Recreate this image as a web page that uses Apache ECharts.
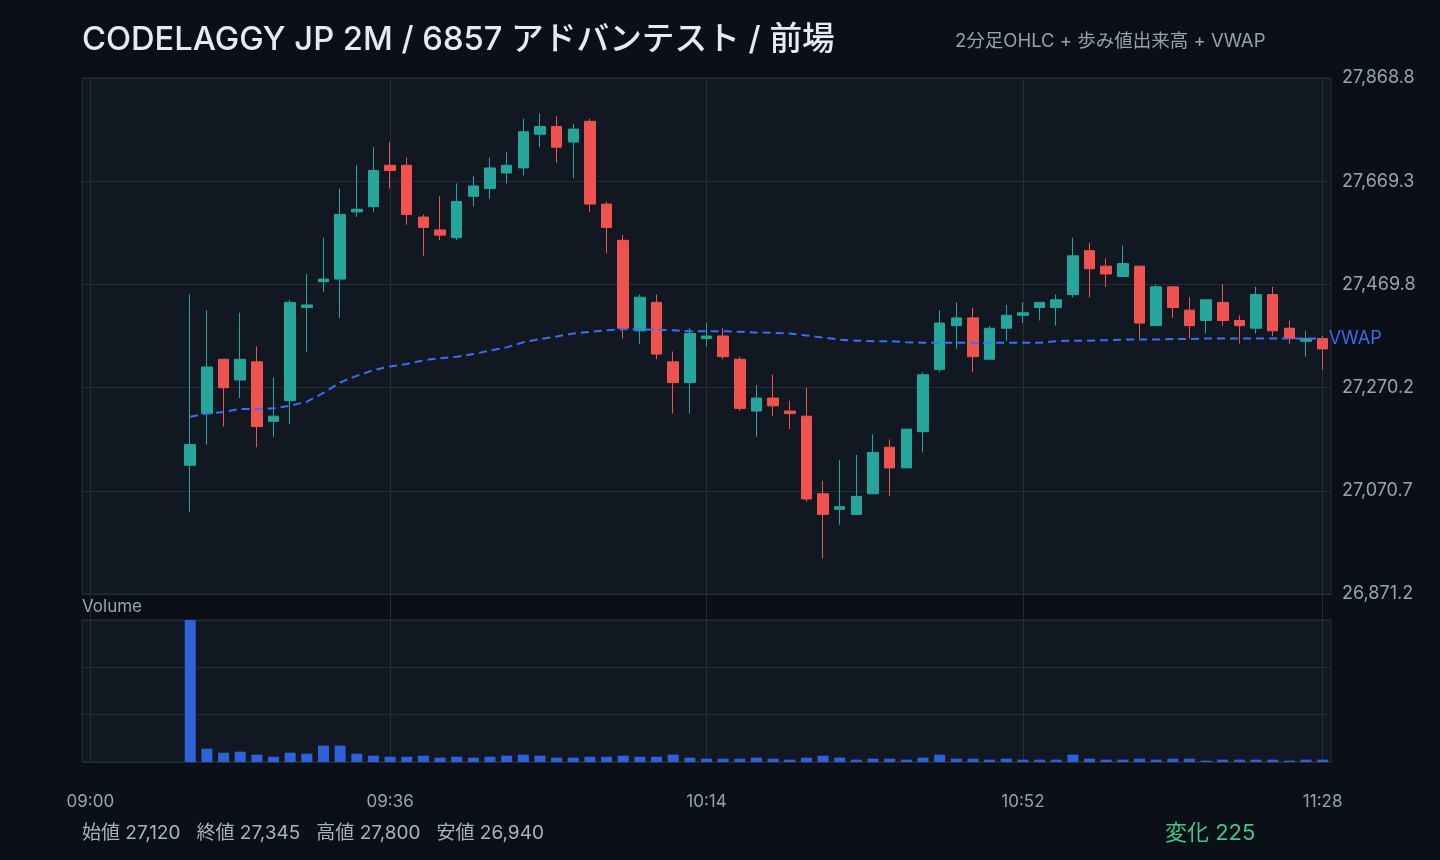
<!DOCTYPE html>
<html>
<head>
<meta charset="utf-8">
<title>6857 2M</title>
<script src="https://cdn.jsdelivr.net/npm/echarts@6/dist/echarts.min.js"></script>
<style>
  html, body { margin: 0; padding: 0; background: #0b0f17; }
  #main { width: 1440px; height: 860px; }
</style>
</head>
<body>
<div id="main"></div>
<script>
// 2分足 09:00 - 11:28
var times = ['09:00','09:02','09:04','09:06','09:08','09:10','09:12','09:14','09:16','09:18',
  '09:20','09:22','09:24','09:26','09:28','09:30','09:32','09:34','09:36','09:38',
  '09:40','09:42','09:44','09:46','09:48','09:50','09:52','09:54','09:56','09:58',
  '10:00','10:02','10:04','10:06','10:08','10:10','10:12','10:14','10:16','10:18',
  '10:20','10:22','10:24','10:26','10:28','10:30','10:32','10:34','10:36','10:38',
  '10:40','10:42','10:44','10:46','10:48','10:50','10:52','10:54','10:56','10:58',
  '11:00','11:02','11:04','11:06','11:08','11:10','11:12','11:14','11:16','11:18',
  '11:20','11:22','11:24','11:26','11:28'];
var shownTicks = ['09:00', '09:36', '10:14', '10:52', '11:28'];

var opens = [null,null,null,null,null,null,
  27120,27220,27325,27285,27320,27205,27245,27425,27475,27480,
  27610,27620,27700,27700,27600,27575,27560,27640,27655,27685,
  27695,27760,27775,27745,27785,27625,27555,27380,27435,27320,
  27280,27365,27370,27325,27225,27250,27225,27215,27065,27035,
  27025,27065,27155,27115,27185,27305,27390,27405,27325,27385,
  27410,27425,27425,27450,27535,27505,27485,27505,27390,27465,
  27420,27400,27435,27400,27385,27450,27385,27360,27365];
var closes = [null,null,null,null,null,null,
  27160,27310,27270,27325,27195,27215,27435,27430,27480,27605,
  27615,27690,27690,27605,27580,27565,27630,27660,27695,27700,
  27765,27775,27735,27770,27625,27580,27385,27445,27335,27280,
  27375,27370,27330,27230,27250,27235,27220,27055,27025,27040,
  27060,27145,27115,27190,27295,27395,27405,27330,27385,27410,
  27415,27435,27440,27525,27500,27490,27510,27395,27465,27425,
  27390,27440,27400,27390,27450,27380,27365,27365,27345];
var lows = [null,null,null,null,null,null,
  27030,27160,27195,27250,27155,27175,27200,27340,27455,27405,
  27600,27610,27655,27585,27525,27555,27555,27620,27635,27665,
  27680,27735,27705,27675,27610,27530,27365,27355,27325,27220,
  27220,27350,27325,27225,27175,27215,27190,27050,26940,27005,
  27025,27065,27060,27115,27145,27300,27345,27300,27325,27360,
  27395,27400,27390,27445,27445,27465,27485,27365,27390,27405,
  27365,27375,27390,27355,27375,27370,27355,27330,27305];
var highs = [null,null,null,null,null,null,
  27450,27420,27325,27415,27350,27290,27440,27490,27560,27655,
  27700,27735,27745,27715,27605,27640,27665,27680,27715,27725,
  27790,27800,27795,27780,27790,27630,27565,27450,27450,27340,
  27385,27395,27385,27330,27275,27295,27245,27270,27090,27130,
  27140,27180,27170,27190,27300,27420,27435,27425,27390,27430,
  27435,27435,27450,27560,27550,27520,27545,27505,27470,27465,
  27445,27440,27470,27410,27465,27465,27400,27380,27370];
var vwap = [null,null,null,null,null,null,
  27214,27220,27223,27229,27229,27230,27235,27243,27260,27280,
  27293,27304,27311,27316,27323,27327,27330,27335,27342,27348,
  27358,27364,27369,27375,27378,27381,27383,27383,27382,27381,
  27379,27379,27379,27378,27377,27376,27375,27371,27367,27363,
  27361,27360,27360,27358,27357,27357,27357,27357,27357,27357,
  27357,27357,27360,27361,27361,27362,27363,27363,27363,27364,
  27364,27365,27365,27365,27365,27365,27365,27365,27365];
var volumes = [null,null,null,null,null,null,
  180000,16900,11800,13100,9300,6700,11800,10500,20700,20700,
  10500,8000,6700,6700,8000,5500,6700,5500,6700,8000,
  9300,8000,5500,5500,6700,6700,8000,6700,6700,9300,
  5500,4200,4200,4200,5500,4200,3000,5500,8000,5500,
  3000,4200,4200,3000,5500,9300,4200,4200,3000,4200,
  3000,3000,3000,9300,4200,3000,3000,4200,3000,4200,
  4200,1700,3000,3000,3000,3000,1700,3000,3000];

var priceMin = 26871.2, priceMax = 27868.8, priceStep = 199.52;
var volMax = 180000, volStep = 60000;

var FONT = 'Inter, "Noto Sans CJK JP", sans-serif';
var GRID_LINE = '#232c37';
var LABEL = '#9aa3ad';

var candles = [];
for (var i = 0; i < times.length; i++) {
    if (opens[i] == null) {
        candles.push('-');
    } else {
        candles.push([opens[i], closes[i], lows[i], highs[i]]);
    }
}

// summary line under the chart
var firstIdx = opens.findIndex(function(v) { return v != null; });
var openVal = opens[firstIdx];
var closeVal = closes[closes.length - 1];
var highVal = Math.max.apply(null, highs.filter(function(v) { return v != null; }));
var lowVal = Math.min.apply(null, lows.filter(function(v) { return v != null; }));
function fmt(v) { return v.toLocaleString('en-US'); }
var summary = '始値 ' + fmt(openVal) + '   終値 ' + fmt(closeVal) +
    '   高値 ' + fmt(highVal) + '   安値 ' + fmt(lowVal);
var change = closeVal - openVal;

function showTick(index) {
    return shownTicks.indexOf(times[index]) >= 0;
}

var myChart = echarts.init(document.getElementById('main'));

var option = {
    backgroundColor: '#0b0f17',
    animation: false,
    textStyle: { fontFamily: FONT },
    title: [{
        text: 'CODELAGGY JP 2M / 6857 アドバンテスト / 前場',
        left: 82, top: 24, padding: 0,
        textStyle: { color: '#e6ebf2', fontSize: 32.7, fontWeight: 500, fontFamily: FONT }
    }, {
        text: '2分足OHLC + 歩み値出来高 + VWAP',
        left: 955, top: 32, padding: 0,
        textStyle: { color: '#98a1ad', fontSize: 18.5, fontWeight: 'normal', fontFamily: FONT }
    }, {
        text: 'Volume',
        left: 82, top: 598, padding: 0,
        textStyle: { color: LABEL, fontSize: 17, fontWeight: 'normal', fontFamily: FONT }
    }, {
        text: summary,
        left: 82, top: 824, padding: 0,
        textStyle: { color: '#aab2bd', fontSize: 19, fontWeight: 'normal', fontFamily: FONT }
    }, {
        text: '変化 ' + change,
        left: 1165, top: 822, padding: 0,
        textStyle: { color: '#45c486', fontSize: 22, fontWeight: 'normal', fontFamily: FONT }
    }],
    grid: [{
        left: 82, right: 109, top: 78, height: 516,
        show: true, backgroundColor: '#111822', borderColor: '#262f3a', borderWidth: 1
    }, {
        left: 82, right: 109, top: 620, height: 142,
        show: true, backgroundColor: '#111822', borderColor: '#262f3a', borderWidth: 1
    }, {
        left: 82, right: 109, top: 78, height: 684, show: false
    }],
    xAxis: [{
        type: 'category', gridIndex: 0, data: times, boundaryGap: true,
        axisLine: { show: false }, axisTick: { show: false },
        axisLabel: { show: false }, splitLine: { show: false }
    }, {
        type: 'category', gridIndex: 1, data: times, boundaryGap: true,
        axisLine: { show: false }, axisTick: { show: false },
        axisLabel: { show: false }, splitLine: { show: false }
    }, {
        type: 'category', gridIndex: 2, data: times, boundaryGap: true,
        axisLine: { show: false }, axisTick: { show: false },
        axisLabel: {
            interval: showTick, color: LABEL, fontSize: 17, margin: 31, fontFamily: FONT
        },
        splitLine: {
            show: true, interval: showTick, alignWithLabel: true,
            lineStyle: { color: GRID_LINE, width: 1 }
        }
    }],
    yAxis: [{
        type: 'value', gridIndex: 0, position: 'right',
        min: priceMin, max: priceMax, interval: priceStep,
        axisLine: { show: false }, axisTick: { show: false },
        axisLabel: {
            color: LABEL, fontSize: 18, margin: 11, fontFamily: FONT,
            formatter: function(v) {
                return v.toLocaleString('en-US', { minimumFractionDigits: 1, maximumFractionDigits: 1 });
            }
        },
        splitLine: { lineStyle: { color: GRID_LINE, width: 1 } }
    }, {
        type: 'value', gridIndex: 1, min: 0, max: volMax, interval: volStep,
        axisLine: { show: false }, axisTick: { show: false },
        axisLabel: { show: false },
        splitLine: { lineStyle: { color: GRID_LINE, width: 1 } }
    }, {
        type: 'value', gridIndex: 2, show: false
    }],
    series: [{
        name: 'OHLC',
        type: 'candlestick',
        xAxisIndex: 0, yAxisIndex: 0,
        data: candles,
        barWidth: 11,
        itemStyle: {
            color: '#26a69a', color0: '#ef5350',
            borderColor: '#26a69a', borderColor0: '#ef5350',
            borderWidth: 1
        }
    }, {
        name: 'VWAP',
        type: 'line',
        xAxisIndex: 0, yAxisIndex: 0,
        data: vwap,
        symbol: 'none',
        lineStyle: { color: '#3a6ff7', width: 2, type: [8, 5] },
        endLabel: {
            show: true, formatter: 'VWAP', color: '#3d6be8', fontSize: 18,
            distance: 6, fontFamily: FONT
        },
        z: 3
    }, {
        name: 'Volume',
        type: 'bar',
        xAxisIndex: 1, yAxisIndex: 1,
        data: volumes,
        barWidth: 11,
        itemStyle: { color: '#2f62d8' }
    }]
};

myChart.setOption(option);
</script>
</body>
</html>
